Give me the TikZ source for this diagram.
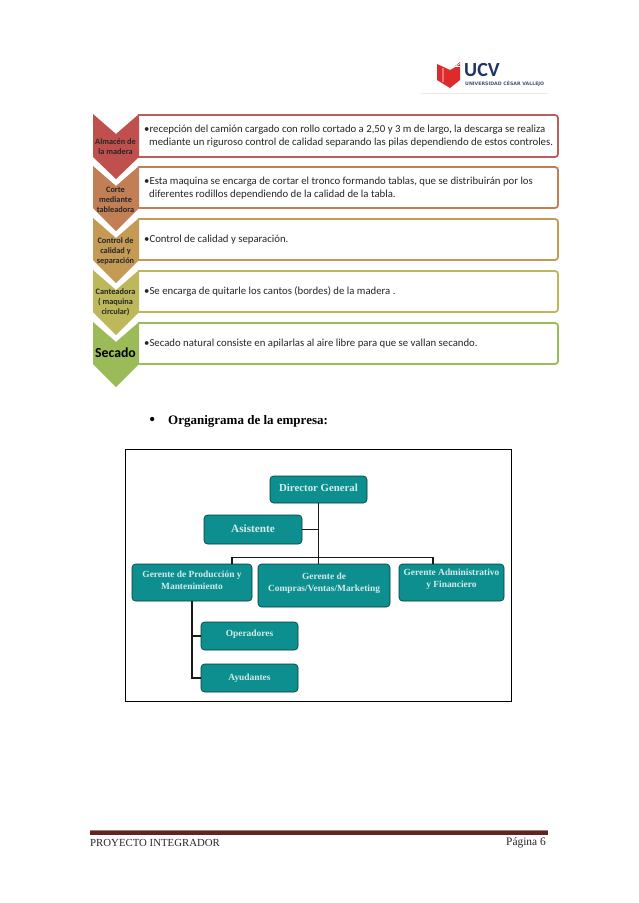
\documentclass[tikz,border=0pt]{standalone}
\usepackage{fontspec}
\setmainfont{Carlito}
\newfontfamily\serifx{Liberation Serif}
\newfontfamily\wideb{DejaVu Sans}
\usetikzlibrary{calc}
\definecolor{cA}{HTML}{C0504D}
\definecolor{cB}{HTML}{C27E54}
\definecolor{cC}{HTML}{C49A55}
\definecolor{cD}{HTML}{BDB85C}
\definecolor{cE}{HTML}{9BBB59}
\definecolor{lA}{HTML}{B9605C}
\definecolor{teal1}{HTML}{0E8F8F}
\definecolor{navy}{HTML}{1F3566}
\definecolor{rule1}{HTML}{622423}
\definecolor{logored}{HTML}{DD2B2B}
\tikzset{
  x=1pt,y=-1pt,
  chevtext/.style={font=\fontsize{8.3}{10}\selectfont\bfseries,align=center,text=black!85,inner sep=0pt},
  bodytext/.style={font=\fontsize{10.75}{13.3}\selectfont,anchor=west,align=left,inner sep=0pt,text=black!85},
  orgbox/.style={fill=teal1,draw=black!60!teal1,line width=.6pt,rounded corners=3.5pt,inner sep=0pt,text=white!82!teal1,
     font=\serifx\bfseries\fontsize{9.4}{12}\selectfont,align=center},
  orglink/.style={draw=black!90,line width=1.5pt},
}
\newcommand{\chev}[5]{% colour, top, notch, shoulder, tip
  \fill[#1] (93,#2) -- (116,#3) -- (139,#2) -- (139,#4) -- (116,#5) -- (93,#4) -- cycle;}
\newcommand{\panel}[3]{% colour, top, bottom
  \draw[#1,line width=1.8pt,rounded corners=3pt,fill=white] (138,#2) -- (558,#2) -- (558,#3) -- (138,#3);}
\newcommand{\orgnode}[7]{% name, x1, y1, x2, y2, raise, text
  \node[orgbox,minimum width=#4pt-#2pt,minimum height=#5pt-#3pt] (#1) at ({(#2+#4)/2},{(#3+#5)/2})
   {\raisebox{#6pt}[0pt][0pt]{\begin{tabular}[c]{@{}c@{}}#7\end{tabular}}};}
\begin{document}
\begin{tikzpicture}
\useasboundingbox (0,0) rectangle (638,903);
\fill[white] (0,0) rectangle (638,903);
% header logo
\fill[logored] (437,64) -- (450,70) -- (450,88) -- (437,80) -- cycle;
\fill[logored] (450,70) -- (460,62) -- (460,80) -- (450,88) -- cycle;
\draw[white,line width=.7pt] (441,63) -- (451,69) -- (460,63.5) (444,62) -- (452,66.5) -- (460,66.5) (443,68) -- (443,82);
\node[anchor=west,inner sep=0pt,text=navy,font=\bfseries\fontsize{20}{20}\selectfont] (ucv) at (464,70) {UCV};
\node[anchor=west,inner sep=0pt,text=navy!85,font=\wideb\bfseries\fontsize{4.7}{5}\selectfont] (uni) at (465,84) {UNIVERSIDAD CÉSAR VALLEJO};
\draw[black!8,line width=.6pt] (421,93) -- (548,93);
% panels
\panel{lA}{115}{157}
\panel{cB}{167}{208}
\panel{cC}{219}{260}
\panel{cD}{271}{312}
\panel{cE}{323}{364}
% chevrons
\chev{cA}{114}{134}{157}{179}
\chev{cB}{166}{186}{208}{231}
\chev{cC}{218}{238}{260}{283}
\chev{cD}{270}{290}{312}{335}
\chev{cE}{322}{342}{364}{387}
\node[chevtext] (a) at (115.5,147) {Almacén de\\la madera};
\node[chevtext] (b) at (115.5,199.5) {Corte\\mediante\\tableadora};
\node[chevtext] (c) at (115.5,251) {Control de\\calidad y\\separación};
\node[chevtext] (d) at (115.5,302) {Canteadora\\( maquina\\circular)};
\node[chevtext,font=\fontsize{13.8}{15}\selectfont\bfseries,text=black] (e) at (115.5,353) {Secado};
\node[bodytext] (ta) at (144,136) {•recepción del camión cargado con rollo cortado a 2,50 y 3 m de largo, la descarga se realiza\\\hspace*{5pt}mediante un riguroso control de calidad separando las pilas dependiendo de estos controles.};
\node[bodytext] (tb) at (144,188) {•Esta maquina se encarga de cortar el tronco formando tablas, que se distribuirán por los\\\hspace*{5pt}diferentes rodillos dependiendo de la calidad de la tabla.};
\node[bodytext] (tc) at (144,239.5) {•Control de calidad y separación.};
\node[bodytext] (td) at (144,291.5) {•Se encarga de quitarle los cantos  (bordes) de la madera .};
\node[bodytext] (te) at (144,343.5) {•Secado natural consiste en apilarlas al aire libre para que se vallan secando.};
% heading
\node[anchor=west,inner sep=0pt,font=\serifx\fontsize{18}{18}\selectfont] (bul) at (149,421) {•};
\node[anchor=west,inner sep=0pt,font=\serifx\bfseries\fontsize{13}{14}\selectfont] (head) at (168,421) {Organigrama de la empresa:};
% org chart
\draw[black,line width=.9pt] (125.5,449.5) rectangle (511.5,701.5);
\orgnode{dir}{270}{476}{367}{503}{-2}{\fontsize{10.8}{12}\selectfont Director General}
\orgnode{asis}{204}{515}{302}{544}{-3}{\fontsize{11.2}{12}\selectfont Asistente}
\orgnode{prod}{132}{564}{252}{601}{-1}{Gerente de Producción y\\Mantenimiento}
\orgnode{comp}{258}{564}{390}{607}{0.5}{Gerente de\\Compras/Ventas/Marketing}
\orgnode{adm}{399}{564}{504}{601}{1}{Gerente Administrativo\\y Financiero}
\orgnode{op}{201}{622}{298}{650}{0}{Operadores}
\orgnode{ay}{201}{664}{298}{692}{-2}{Ayudantes}
\coordinate (busL) at (232,557.7);
\coordinate (busR) at (433,557.7);
\coordinate (trunkP) at (192,601);
\draw[orglink] (dir.south) -- (dir.south |- comp.north);
\draw[orglink] (asis.east) -- (asis.east -| dir.south);
\draw[orglink] (busL |- prod.north) -- (busL) -- (busR) -- (busR |- adm.north);
\draw[orglink] (trunkP) -- (trunkP |- ay.west) -- (ay.west);
\draw[orglink] (op.west -| trunkP) -- (op.west);
% footer
\fill[rule1] (90,830.5) rectangle (548,834.5);
\draw[rule1!60,line width=.5pt] (90,830.2) -- (548,830.2);
\node[anchor=west,inner sep=0pt,text=black!85,font=\serifx\fontsize{10.8}{13}\selectfont] (fl) at (90,843) {PROYECTO INTEGRADOR};
\node[anchor=east,inner sep=0pt,text=black!85,font=\serifx\fontsize{11.4}{13}\selectfont] (fr) at (546,843) {Página 6};
\end{tikzpicture}
\end{document}
